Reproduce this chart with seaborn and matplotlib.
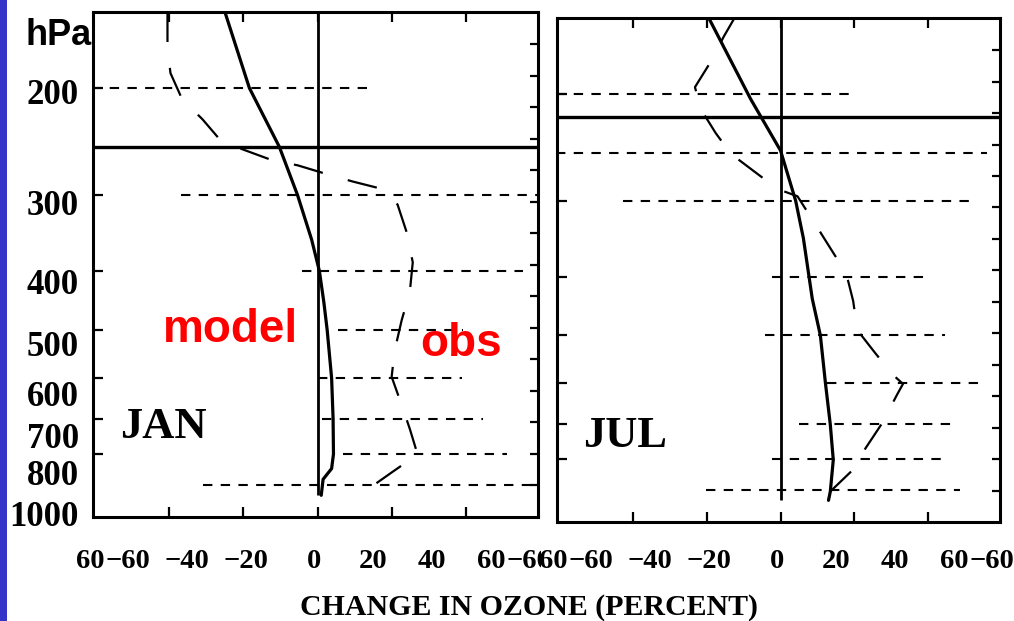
import numpy as np
import matplotlib
matplotlib.use("Agg")
import matplotlib.pyplot as plt
from matplotlib.patches import Rectangle
from matplotlib.ticker import NullLocator
import seaborn as sns

# ---------------- data (pressure in hPa, change in ozone in percent) ----------------
months = ["JAN", "JUL"]

jan_model_p = [150, 200, 250, 300, 355, 400, 450, 500, 600, 700, 800, 845, 880, 935]
jan_model_x = [-25.0, -18.4, -10.3, -5.4, -1.6, 0.5, 1.7, 2.6, 3.8, 4.2, 4.3, 3.8, 1.5, 1.0]

jan_obs_p = [150, 171, 189, 209, 225, 245, 253, 263, 268, 277, 285, 293,
             311, 346, 387, 433, 482, 541, 597, 664, 727, 801, 855, 909]
jan_obs_x = [-40.5, -40.5, -39.7, -36.5, -31.1, -25.9, -19.7, -12.2, -5.4, 2.4, 9.5, 17.3,
             21.6, 24.1, 25.7, 24.9, 22.7, 20.8, 20.0, 22.7, 24.9, 27.0, 20.3, 14.1]

jul_model_p = [149, 204, 248, 300, 346, 435, 500, 601, 702, 802, 904, 935]
jul_model_x = [-19.7, -8.1, 0.0, 4.1, 6.2, 8.6, 10.8, 12.2, 13.5, 14.3, 13.5, 13.0]

jul_obs_p = [149, 161, 177, 195, 212, 232, 251, 268, 287, 295, 330, 364,
             395, 439, 490, 535, 581, 601, 626, 697, 768, 834, 904]
jul_obs_x = [-12.2, -15.4, -18.9, -23.2, -21.6, -17.6, -13.5, -7.3, -0.8, 4.6, 9.7, 14.1,
             17.8, 19.7, 20.8, 25.7, 30.5, 33.2, 31.6, 27.6, 23.0, 19.5, 13.5]

# spread of the observations at each sounding level
jan_range_p = [200, 300, 400, 500, 600, 700, 800, 900]
jan_range_lo = [-61.0, -36.8, -4.3, 5.4, 0.0, 1.1, 6.8, -31.0]
jan_range_hi = [14.1, 60.0, 55.4, 39.2, 38.9, 44.6, 51.0, 58.6]

jul_range_p = [200, 250, 300, 400, 500, 600, 700, 800, 900]
jul_range_lo = [-61.0, -61.0, -42.7, -2.2, -4.1, 12.7, 4.9, -2.2, -20.3]
jul_range_hi = [19.5, 56.0, 52.7, 39.7, 44.6, 54.0, 48.1, 45.4, 48.6]

jan_tropopause = 250
jul_tropopause = 218
profile_bottom = 935

pressure_ticks = [200, 300, 400, 500, 600, 700, 800]
pressure_labels = ["200", "300", "400", "500", "600", "700", "800"]
bottom_pressure_label = "1000"
x_ticks = [-40, -20, 0, 20, 40]
x_label_values = [-60, -40, -20, 0, 20, 40, 60]
height_ticks_km = list(range(1, 16))

# ---------------- style ----------------
sns.set_theme(style="white")
plt.rcParams.update({
    "axes.edgecolor": "black",
    "axes.linewidth": 2.2,
    "xtick.color": "black",
    "ytick.color": "black",
    "text.color": "black",
})
plt.rcParams["font.family"] = ["Liberation Serif", "DejaVu Serif"]

W, H = 1014, 621
P_TOP, P_BOTTOM = 150, 1015
X_MIN, X_MAX = -60.6, 59.5
SCALE_HEIGHT = 8.38
SERIF = ["Liberation Serif", "DejaVu Serif"]
SANS = ["Liberation Sans", "DejaVu Sans"]


def fx(px):
    return px / W


def fy(py):
    return 1 - py / H


fig = plt.figure(figsize=(W / 100, H / 100), dpi=100)
fig.patch.set_facecolor("white")

# blue slide margin
fig.patches.append(Rectangle((0, 0), fx(7), 1, transform=fig.transFigure,
                             facecolor="#3434c8", edgecolor="none", zorder=0))

panels = {
    "JAN": dict(box=(93, 12, 538, 517),
                model=(jan_model_x, jan_model_p), obs=(jan_obs_x, jan_obs_p),
                rng=(jan_range_p, jan_range_lo, jan_range_hi), trop=jan_tropopause,
                title_xy=(120, 438), strip=(72, 541)),
    "JUL": dict(box=(557, 18, 1000, 522),
                model=(jul_model_x, jul_model_p), obs=(jul_obs_x, jul_obs_p),
                rng=(jul_range_p, jul_range_lo, jul_range_hi), trop=jul_tropopause,
                title_xy=(583, 447), strip=(540, 1014)),
}

LABEL_PX_PER_UNIT = 2.96
LABEL_PERIOD = 135.5
LABEL_SIZE = 20.5
DIGIT_PX = 14.2
MINUS_PX = 16.0

axes = {}
for month in months:
    cfg = panels[month]
    x0, y0, x1, y1 = cfg["box"]
    ax = fig.add_axes([fx(x0), fy(y1), (x1 - x0) / W, (y1 - y0) / H])
    axes[month] = ax
    ax.set_yscale("log")
    ax.set_ylim(P_BOTTOM, P_TOP)
    ax.set_xlim(X_MIN, X_MAX)
    ax.set_facecolor("white")
    for s in ax.spines.values():
        s.set_visible(True)
        s.set_color("black")
        s.set_linewidth(2.2)

    # observation spread at sounding levels
    rp, rlo, rhi = cfg["rng"]
    ax.hlines(rp, rlo, rhi, colors="black", linewidth=1.5,
              linestyles=(0, (4.5, 4.0)), zorder=2)

    # zero line and tropopause
    ax.vlines(0, profile_bottom, P_TOP, colors="black", linewidth=2.0, zorder=3)
    ax.axhline(cfg["trop"], color="black", linewidth=2.4, zorder=3)

    # observed profile (long dashes)
    ox, op = cfg["obs"]
    sns.lineplot(x=ox, y=op, sort=False, estimator=None, color="black",
                 linewidth=1.6, linestyle=(0, (13.5, 11.7)), ax=ax, zorder=4)
    # model profile
    mx, mp = cfg["model"]
    sns.lineplot(x=mx, y=mp, sort=False, estimator=None, color="black",
                 linewidth=2.3, ax=ax, zorder=5)

    ax.set_xlabel("")
    ax.set_ylabel("")
    ax.set_xticks(x_ticks)
    ax.set_yticks(pressure_ticks)
    ax.yaxis.set_minor_locator(NullLocator())
    ax.xaxis.set_minor_locator(NullLocator())
    ax.tick_params(axis="both", which="major", direction="in", length=7, width=1.6,
                   top=True, bottom=True, left=True, right=False,
                   labelleft=False, labelbottom=False)

    # height (km) ticks along the right frame
    axz = ax.twinx()
    axz.set_ylim(0, SCALE_HEIGHT * np.log(P_BOTTOM / P_TOP))
    axz.set_yticks(height_ticks_km)
    axz.tick_params(axis="y", direction="in", length=6, width=1.6, labelright=False)
    for s in axz.spines.values():
        s.set_visible(False)
    axz.grid(False)

    tx, ty = cfg["title_xy"]
    fig.text(fx(tx), fy(ty), month, ha="left", va="baseline", fontsize=32,
             fontweight="bold", family=SERIF)

    # percent labels beneath the frame (the row repeats from panel to panel)
    sx0, sx1 = cfg["strip"]
    zero_px = x0 + (0 - X_MIN) / (X_MAX - X_MIN) * (x1 - x0) - 4
    strip = fig.add_axes([fx(sx0), fy(575), (sx1 - sx0) / W, 30 / H])
    strip.set_xlim((sx0 - zero_px) / LABEL_PX_PER_UNIT, (sx1 - zero_px) / LABEL_PX_PER_UNIT)
    strip.set_ylim(0, 1)
    strip.axis("off")
    for k in (-1, 0, 1):
        for v in x_label_values:
            txt = str(abs(v))
            label = ("\u2212" + txt) if v < 0 else txt
            centre_px = zero_px + (v + k * LABEL_PERIOD) * LABEL_PX_PER_UNIT
            right_px = centre_px + DIGIT_PX * len(txt) / 2
            left_px = right_px - DIGIT_PX * len(txt) - (MINUS_PX if v < 0 else 0)
            if right_px <= sx0 + 2 or left_px >= sx1 - 2:
                continue
            t = strip.text((right_px - zero_px) / LABEL_PX_PER_UNIT, 7 / 30, label,
                           ha="right", va="baseline", fontsize=LABEL_SIZE, fontweight="bold",
                           family=SERIF, transform=strip.get_xaxis_transform())
            t.set_clip_on(True)
            t.set_clip_box(strip.bbox)

# pressure labels on the left
ax_left = axes["JAN"]
lab = fig.add_axes(ax_left.get_position().bounds)
lab.patch.set_visible(False)
for s in lab.spines.values():
    s.set_visible(False)
lab.set_yscale("log")
lab.set_ylim(941, 150)
lab.set_xticks([])
lab.set_yticks(pressure_ticks, pressure_labels)
lab.yaxis.set_minor_locator(NullLocator())
lab.tick_params(axis="y", length=0, pad=10, labelsize=25)
for t in lab.get_yticklabels():
    t.set_fontweight("bold")
    t.set_family(SERIF)
lab.grid(False)

ax_left.set_yticks([1000], [bottom_pressure_label], minor=True)
ax_left.tick_params(axis="y", which="minor", length=0, pad=10, labelsize=25, labelleft=True)
for t in ax_left.get_yticklabels(minor=True):
    t.set_fontweight("bold")
    t.set_family(SERIF)

# annotations
fig.text(fx(25), fy(45), "hPa", ha="left", va="baseline", fontsize=26,
         fontweight="bold", family=SANS)
fig.text(fx(163), fy(342), "model", ha="left", va="baseline", fontsize=33,
         fontweight="bold", color="#ff0000", family=SANS)
fig.text(fx(420), fy(356), "obs", ha="left", va="baseline", fontsize=33,
         fontweight="bold", color="#ff0000", family=SANS)
fig.text(fx(529), fy(615), "CHANGE IN OZONE (PERCENT)", ha="center", va="baseline",
         fontsize=21.5, fontweight="bold", family=SERIF)

fig.savefig("out.png", dpi=100, facecolor="white")
